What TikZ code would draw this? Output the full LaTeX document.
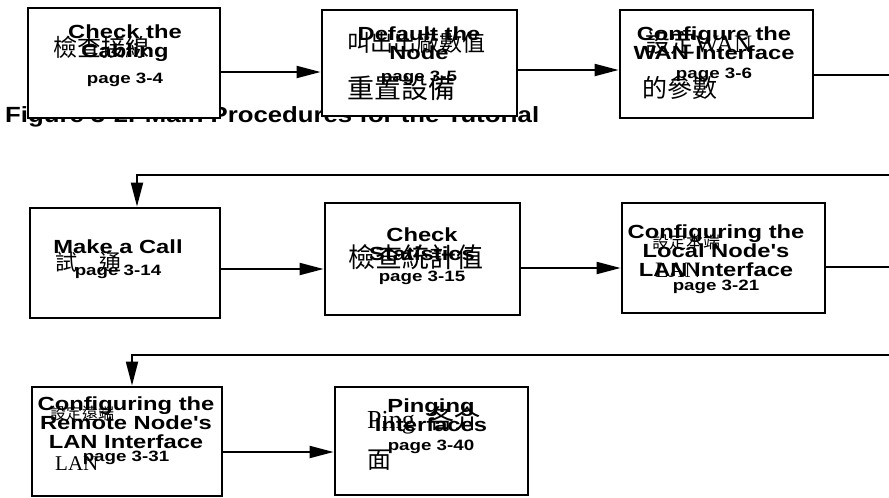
\documentclass[tikz,border=0pt]{standalone}
\usepackage{fontspec}
\setmainfont{Liberation Sans}
\newfontfamily\boxfont[FakeStretch=1.25]{Liberation Sans}
\newfontfamily\capfont[FakeStretch=1.17]{Liberation Sans}
\newfontfamily\cjk{Noto Sans CJK TC}
\newfontfamily\serifo{Liberation Serif}
\usetikzlibrary{arrows.meta}
\begin{document}
\begin{tikzpicture}[x=1pt,y=-1pt,
  stepbox/.style={draw, line width=2.8pt, fill=white, inner sep=0pt},
  conn/.style={line width=2pt},
  arr/.style={conn, -{Triangle[length=24pt,width=12pt]}},
  title/.style={font=\boxfont\bfseries\fontsize{19}{19}\selectfont, align=center, inner sep=0pt},
  pg/.style={font=\boxfont\bfseries\fontsize{15}{16}\selectfont, inner sep=0pt},
  zh/.style={inner sep=0pt, anchor=west},
]
\useasboundingbox (0,0) rectangle (889,498);

% caption (partly hidden behind the boxes)
\node[anchor=base west, inner sep=0pt, font=\capfont\bfseries\fontsize{22}{22}\selectfont] (cap) at (5,122) {Figure 3-2. Main Procedures for the Tutorial};

% boxes
\node[stepbox, minimum width=192pt, minimum height=110pt] (B1) at (124,63) {};
\node[stepbox, minimum width=195pt, minimum height=106pt] (B2) at (419.5,63) {};
\node[stepbox, minimum width=193pt, minimum height=108pt] (B3) at (716.5,64) {};
\node[stepbox, minimum width=190pt, minimum height=110pt] (B4) at (125,263) {};
\node[stepbox, minimum width=195pt, minimum height=112pt] (B5) at (422.5,259) {};
\node[stepbox, minimum width=203pt, minimum height=110pt] (B6) at (723.5,258) {};
\node[stepbox, minimum width=190pt, minimum height=109pt] (B7) at (127,441.5) {};
\node[stepbox, minimum width=193pt, minimum height=108pt] (B8) at (431.5,441) {};

% connectors
\coordinate (r1) at (889,75);
\coordinate (r2) at (889,175);
\coordinate (k1) at (137,175);
\coordinate (r3) at (889,267);
\coordinate (r4) at (889,355);
\coordinate (k2) at (132,355);
\draw[arr] (B1.east |- 0,72) -- (B2.west |- 0,72);
\draw[arr] (B2.east |- 0,70) -- (B3.west |- 0,70);
\draw[conn] (B3.east |- r1) -- (r1);
\draw[arr] (r2) -- (k1) -- (k1 |- B4.north);
\draw[arr] (B4.east |- 0,269) -- (B5.west |- 0,269);
\draw[arr] (B5.east |- 0,268) -- (B6.west |- 0,268);
\draw[conn] (B6.east |- r3) -- (r3);
\draw[arr] (r4) -- (k2) -- (k2 |- B7.north);
\draw[arr] (B7.east |- 0,452) -- (B8.west |- 0,452);

% Chinese overlay text
\node[zh, font=\cjk\fontsize{24}{24}\selectfont] (z1) at (53,47) {檢查接線};
\node[zh, font=\cjk\fontsize{23}{23}\selectfont] (z2a) at (347,43) {叫出出廠數值};
\node[zh, font=\cjk\fontsize{27}{27}\selectfont] (z2b) at (347,88) {重置設備};
\node[zh, font=\cjk\fontsize{25}{25}\selectfont] (z3a) at (645,43) {設定{\serifo WAN}};
\node[zh, font=\cjk\fontsize{25}{25}\selectfont] (z3b) at (642,88) {的參數};
\node[zh, font=\cjk\fontsize{22}{22}\selectfont] (z4) at (55,262) {試　通};
\node[zh, font=\cjk\fontsize{27}{27}\selectfont] (z5) at (348,257) {檢查統計值};
\node[zh, font=\cjk\fontsize{17}{17}\selectfont] (z6a) at (652,242) {設定本端};
\node[zh, font=\serifo\fontsize{22}{22}\selectfont] (z6b) at (655,270) {LAN};
\node[zh, font=\cjk\fontsize{16}{16}\selectfont] (z7a) at (50,413) {設定遠端};
\node[zh, font=\serifo\fontsize{21}{21}\selectfont] (z7b) at (55,464) {LAN};
\node[zh, font=\cjk\fontsize{26}{26}\selectfont] (z8a) at (367,420) {{\serifo Ping}\hspace{14pt}各介};
\node[zh, font=\cjk\fontsize{24}{24}\selectfont] (z8b) at (367,460) {面};

% English text
\node[title] (t1) at (125,43) {Check the\\Cabling};
\node[pg] (p1) at (125,80) {page 3-4};
\node[title] (t2) at (419,43) {Default the\\Node};
\node[pg] (p2) at (419,78) {page 3-5};
\node[title] (t3) at (714,43) {Configure the\\WAN Interface};
\node[pg] (p3) at (714,75) {page 3-6};
\node[title] (t4) at (118,247) {Make a Call};
\node[pg] (p4) at (118,272) {page 3-14};
\node[title] (t5) at (422,244.5) {Check\\Statistics};
\node[pg] (p5) at (422,278) {page 3-15};
\node[title] (t6) at (716,250.5) {Configuring the\\Local Node's\\LAN Interface};
\node[pg] (p6) at (716,287) {page 3-21};
\node[title] (t7) at (126,422.5) {Configuring the\\Remote Node's\\LAN Interface};
\node[pg] (p7) at (126,458) {page 3-31};
\node[title] (t8) at (431,415) {Pinging\\Interfaces};
\node[pg] (p8) at (431,447) {page 3-40};
\end{tikzpicture}
\end{document}
